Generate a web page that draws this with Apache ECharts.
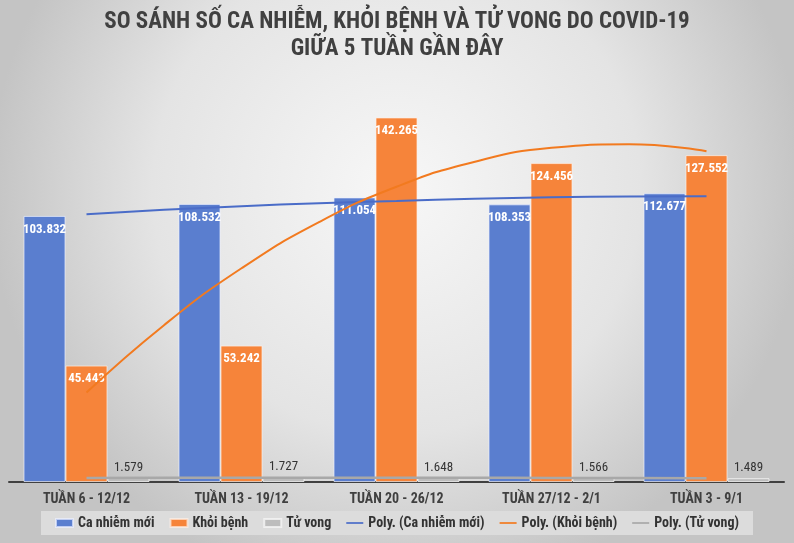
<!DOCTYPE html>
<html>
<head>
<meta charset="utf-8">
<script src="https://cdn.jsdelivr.net/npm/echarts@6/dist/echarts.min.js"></script>
<style>
html,body{margin:0;padding:0;}
#chart{width:794px;height:543px;}
</style>
</head>
<body>
<div id="chart"></div>
<script>
const categories = ['TUẦN 6 - 12/12', 'TUẦN 13 - 19/12', 'TUẦN 20 - 26/12', 'TUẦN 27/12 - 2/1', 'TUẦN 3 - 9/1'];
const caNhiem = [103.832, 108.532, 111.054, 108.353, 112.677];
const khoiBenh = [45.443, 53.242, 142.265, 124.456, 127.552];
const tuVong = [1.579, 1.727, 1.648, 1.566, 1.489];
// trendline curves, values at every half category (1 = first week)
const trendX = [1, 1.5, 2, 2.5, 3, 3.5, 4, 4.5, 5];
const polyCaNhiem = [104.5, 106.2, 107.6, 108.8, 109.7, 110.5, 111.1, 111.4, 111.5];
const polyKhoiBenh = [34.9, 61.2, 83.4, 101.4, 115.2, 124.9, 130.4, 131.8, 129.1];
const polyTuVong = [1.6, 1.64, 1.67, 1.68, 1.67, 1.64, 1.6, 1.54, 1.47];

const fmt = v => v.toFixed(3);
const FONT = '"Roboto Condensed", "DejaVu Sans Condensed", "Liberation Sans Narrow", "Open Sans Condensed", sans-serif';
const pairs = arr => trendX.map((x, i) => [x, arr[i]]);

const chart = echarts.init(document.getElementById('chart'));
chart.setOption({
  animation: false,
  backgroundColor: {
    type: 'radial', x: 0.5, y: 0.35, r: 0.75,
    colorStops: [
      {offset: 0, color: '#f7f7f7'},
      {offset: 0.6, color: '#e4e4e4'},
      {offset: 1, color: '#c4c4c4'}
    ]
  },
  title: {
    text: 'SO SÁNH SỐ CA NHIỄM, KHỎI BỆNH VÀ TỬ VONG DO COVID-19\nGIỮA 5 TUẦN GẦN ĐÂY',
    left: 'center', top: 4,
    textStyle: {fontFamily: FONT, fontWeight: 'bold', fontSize: 23, color: '#404040', lineHeight: 27}
  },
  legend: {
    bottom: 8, left: 'center',
    backgroundColor: '#dcdcdc',
    padding: [5, 14],
    itemGap: 15,
    itemWidth: 17, itemHeight: 8,
    textStyle: {fontFamily: FONT, fontWeight: 'bold', fontSize: 14, color: '#333'},
    data: [
      {name: 'Ca nhiễm mới', icon: 'rect'},
      {name: 'Khỏi bệnh', icon: 'rect'},
      {name: 'Tử vong', icon: 'rect'},
      {name: 'Poly. (Ca nhiễm mới)', icon: 'path://M0,0 L20,0 L20,2 L0,2 Z'},
      {name: 'Poly. (Khỏi bệnh)', icon: 'path://M0,0 L20,0 L20,2 L0,2 Z'},
      {name: 'Poly. (Tử vong)', icon: 'path://M0,0 L20,0 L20,2 L0,2 Z'}
    ]
  },
  grid: {left: 9, right: 10, top: 72, bottom: 61, containLabel: false},
  xAxis: [{
    type: 'category', data: categories,
    axisLine: {lineStyle: {color: '#404040', width: 2}},
    axisTick: {show: false},
    axisLabel: {fontFamily: FONT, fontWeight: 'bold', fontSize: 14, color: '#404040', margin: 10}
  }, {
    type: 'value', min: 0.5, max: 5.5, show: false, position: 'bottom',
    splitLine: {show: false}
  }],
  yAxis: {
    type: 'value', min: 0, max: 160, interval: 20,
    show: false, splitLine: {show: false}
  },
  series: [
    {
      name: 'Ca nhiễm mới', type: 'bar', data: caNhiem, barWidth: 42, barGap: '0%',
      itemStyle: {color: '#5a7ecf', borderColor: 'rgba(235,240,255,0.7)', borderWidth: 1},
      label: {show: true, position: 'insideTop', distance: 7, color: '#fff', fontWeight: 'bold',
        fontFamily: FONT, fontSize: 13, formatter: p => fmt(p.value)}
    },
    {
      name: 'Khỏi bệnh', type: 'bar', data: khoiBenh, barWidth: 42,
      itemStyle: {color: '#f6843a', borderColor: 'rgba(255,240,230,0.7)', borderWidth: 1},
      label: {show: true, position: 'insideTop', distance: 7, color: '#fff', fontWeight: 'bold',
        fontFamily: FONT, fontSize: 13, formatter: p => fmt(p.value)}
    },
    {
      name: 'Tử vong', type: 'bar', data: tuVong, barWidth: 42,
      itemStyle: {color: '#bdbdbd', borderColor: 'rgba(245,245,245,0.8)', borderWidth: 1},
      label: {show: true, position: 'top', distance: 4, color: '#333',
        fontFamily: FONT, fontSize: 13, formatter: p => fmt(p.value)}
    },
    {
      name: 'Poly. (Ca nhiễm mới)', type: 'line', xAxisIndex: 1, data: pairs(polyCaNhiem), smooth: true,
      symbol: 'none', lineStyle: {color: '#4a6cc8', width: 2}, itemStyle: {color: '#4a6cc8'}, z: 5
    },
    {
      name: 'Poly. (Khỏi bệnh)', type: 'line', xAxisIndex: 1, data: pairs(polyKhoiBenh), smooth: true,
      symbol: 'none', lineStyle: {color: '#f27a1f', width: 2}, itemStyle: {color: '#f27a1f'}, z: 5
    },
    {
      name: 'Poly. (Tử vong)', type: 'line', xAxisIndex: 1, data: pairs(polyTuVong), smooth: true,
      symbol: 'none', lineStyle: {color: '#a8a8a8', width: 2.5}, itemStyle: {color: '#a8a8a8'}, z: 5
    }
  ]
});
</script>
</body>
</html>
